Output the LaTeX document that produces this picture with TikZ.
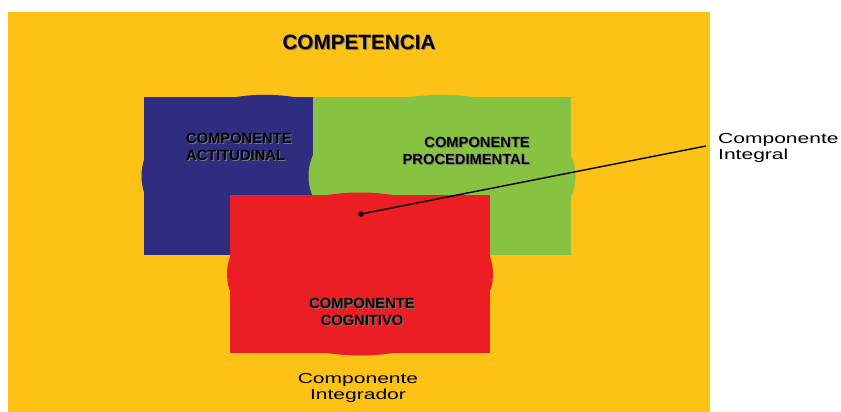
\documentclass[tikz,border=0pt]{standalone}
\usepackage{fontspec}
\setmainfont{Liberation Sans}
\definecolor{yellowC}{RGB}{252,194,22}
\definecolor{blueC}{RGB}{46,45,127}
\definecolor{greenC}{RGB}{136,194,65}
\definecolor{redC}{RGB}{236,30,36}
\definecolor{shadowC}{RGB}{120,120,120}
\newcommand\widetxt[1]{\scalebox{1.45}[1]{#1}}
\tikzset{
  boldlbl/.style={inner sep=0pt, font=\fontsize{14.7}{17.5}\selectfont\bfseries, text=black},
  shadowlbl/.style={boldlbl, text=shadowC},
  plainlbl/.style={inner sep=0pt, font=\fontsize{14.5}{16.5}\selectfont, text=black},
}
\begin{document}
\begin{tikzpicture}[x=1pt,y=-1pt]
\useasboundingbox (0,0) rectangle (841,412);
\fill[white] (0,0) rectangle (841,412);
% outer competence area
\fill[yellowC] (8,12) rectangle (710,412);
% actitudinal
\fill[blueC] (144,97) rectangle (313,255);
\fill[blueC] (265,176) ellipse [x radius=123.5, y radius=81.2];
% procedimental
\fill[greenC] (313,97) rectangle (571,255);
\fill[greenC] (442,176) ellipse [x radius=133.5, y radius=81.2];
% cognitivo
\fill[redC] (230,195) rectangle (490,353);
\fill[redC] (360,274) ellipse [x radius=133, y radius=81.5];
% titles with shadow
\node[shadowlbl, font=\fontsize{20.7}{24}\selectfont\bfseries] (compS) at (360,43) {COMPETENCIA};
\node[boldlbl, font=\fontsize{20.7}{24}\selectfont\bfseries] (comp) at (359,42) {COMPETENCIA};
\node[shadowlbl, anchor=west, align=left] (actS) at (187,148) {COMPONENTE\\ACTITUDINAL};
\node[boldlbl, anchor=west, align=left] (act) at (186,147) {COMPONENTE\\ACTITUDINAL};
\node[shadowlbl, anchor=east, align=right] (procS) at (531,152) {COMPONENTE\\PROCEDIMENTAL};
\node[boldlbl, anchor=east, align=right] (proc) at (530,151) {COMPONENTE\\PROCEDIMENTAL};
\node[shadowlbl, align=center] (cogS) at (363,313) {COMPONENTE\\COGNITIVO};
\node[boldlbl, align=center] (cog) at (362,312) {COMPONENTE\\COGNITIVO};
% plain labels
\node[plainlbl, anchor=west, align=left] (integral) at (718,148) {\widetxt{Componente}\\\widetxt{Integral}};
\node[plainlbl, align=center] (integrador) at (358,388) {\widetxt{Componente}\\\widetxt{Integrador}};
% pointer
\node[circle, fill=black, inner sep=0pt, minimum size=5.5pt] (dot) at (361,214) {};
\coordinate (lineend) at (706,146);
\draw[line width=1.4pt, black] (dot.center) -- (lineend);
\end{tikzpicture}
\end{document}
